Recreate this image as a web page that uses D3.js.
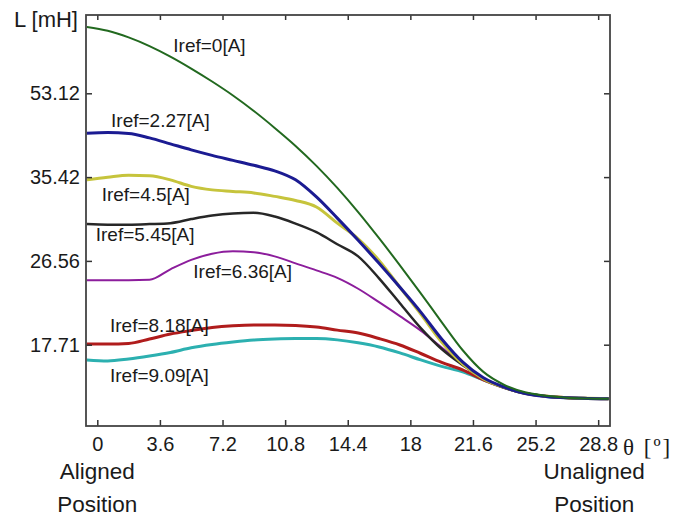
<!DOCTYPE html>
<html>
<head>
<meta charset="utf-8">
<script src="https://cdn.jsdelivr.net/npm/d3@7"></script>
<style>
  html, body { margin: 0; padding: 0; background: #fff; }
  svg { display: block; font-family: "Liberation Sans", Arial, sans-serif; }
</style>
</head>
<body>
<svg id="chart" width="686" height="517"></svg>
<script>
// Rotor angle samples [deg]
const theta = [-0.6, 0.6, 1.8, 3.0, 4.2, 5.4, 6.6, 7.8, 9.0, 10.2, 11.4, 12.6, 13.8,
  15.0, 16.2, 17.4, 18.6, 19.8, 21.0, 22.2, 23.4, 24.6, 25.8, 27.0, 28.2, 29.4];

// Inductance [mH] for each reference current
const L_0 = [67.13, 66.33, 64.92, 63.09, 60.87, 58.34, 55.61, 52.66, 49.39, 45.81, 42.01, 37.80, 34.28,
  31.72, 28.96, 26.09, 23.14, 20.10, 17.15, 14.84, 13.47, 12.69, 12.32, 12.11, 12.03, 12.00];
const L_227 = [44.69, 44.82, 44.65, 43.70, 42.44, 41.17, 40.01, 38.96, 37.91, 36.75, 35.13, 33.32, 31.08,
  28.74, 26.30, 23.77, 21.15, 18.31, 15.89, 14.21, 13.22, 12.56, 12.25, 12.10, 12.04, 12.00];
const L_45 = [35.13, 35.40, 35.80, 35.69, 35.13, 34.44, 34.07, 33.91, 33.75, 33.38, 32.95, 32.26, 30.55,
  28.90, 26.61, 23.77, 20.94, 17.99, 15.68, 14.10, 13.20, 12.57, 12.27, 12.12, 12.05, 12.00];
const L_545 = [30.45, 30.39, 30.39, 30.45, 30.55, 30.98, 31.35, 31.57, 31.64, 31.25, 30.50, 29.59, 28.32,
  27.04, 24.72, 22.09, 19.47, 17.26, 15.58, 14.10, 13.18, 12.58, 12.26, 12.11, 12.04, 12.00];
const L_636 = [24.51, 24.51, 24.51, 24.56, 25.67, 26.67, 27.31, 27.57, 27.47, 27.04, 26.30, 25.56, 24.77,
  23.62, 22.20, 20.73, 19.20, 17.42, 15.68, 14.10, 13.20, 12.57, 12.25, 12.10, 12.04, 12.00];
const L_818 = [17.78, 17.78, 17.84, 18.31, 18.83, 19.20, 19.52, 19.70, 19.78, 19.78, 19.73, 19.57, 19.25,
  18.94, 18.36, 17.68, 16.78, 15.84, 15.05, 14.00, 13.19, 12.57, 12.26, 12.11, 12.04, 12.00];
const L_909 = [16.10, 16.00, 16.21, 16.52, 16.89, 17.38, 17.73, 17.99, 18.20, 18.31, 18.36, 18.36, 18.22,
  17.91, 17.47, 16.84, 16.10, 15.42, 14.84, 14.00, 13.19, 12.57, 12.25, 12.10, 12.04, 12.00];

const seriesNames = ["Iref=0[A]", "Iref=2.27[A]", "Iref=4.5[A]", "Iref=5.45[A]",
  "Iref=6.36[A]", "Iref=8.18[A]", "Iref=9.09[A]"];
const seriesValues = [L_0, L_227, L_45, L_545, L_636, L_818, L_909];

// Axis ticks
const xTicks = [0, 3.6, 7.2, 10.8, 14.4, 18, 21.6, 25.2, 28.8];
const yTicks = [17.71, 26.56, 35.42, 53.12];

// ---- layout & styling ----
const margin = { left: 86, top: 15, right: 76, bottom: 91 };
const W = 686, H = 517;
const width = W - margin.left - margin.right;   // 524
const height = H - margin.top - margin.bottom;  // 411

const colors = ["#22691f", "#1b1b92", "#c6c43c", "#272727", "#8c1d9c", "#b01c1c", "#2cb0b0"];
const widths = [2, 3, 3, 2.5, 2, 3, 3];
// label anchors in data units [theta, L]
const labelAt = [[4.37, 61.9], [0.79, 45.9], [0.25, 32.93], [-0.09, 28.64],
  [5.52, 24.79], [0.73, 19.08], [0.73, 13.82]];

const svg = d3.select("#chart");
const g = svg.append("g").attr("transform", `translate(${margin.left},${margin.top})`);

const x = d3.scaleLinear().domain([-0.65, 29.48]).range([0, width]);
// y ticks sit at equal spacing on the axis
const yStep = 83.8, yFirst = 78.3;
const y = d3.scaleLinear()
  .domain(yTicks.slice().reverse())
  .range([yFirst, yFirst + yStep, yFirst + 2 * yStep, yFirst + 3 * yStep]);

const tickFont = "20px";

// curves (highest current drawn first)
const line = d3.line()
  .x((d, i) => x(theta[i]))
  .y(d => y(d))
  .curve(d3.curveMonotoneX);

g.append("clipPath").attr("id", "plotClip")
  .append("rect").attr("width", width).attr("height", height);

const curves = g.append("g").attr("clip-path", "url(#plotClip)");
for (let k = seriesValues.length - 1; k >= 0; k--) {
  curves.append("path")
    .datum(seriesValues[k])
    .attr("fill", "none")
    .attr("stroke", colors[k])
    .attr("stroke-width", widths[k])
    .attr("stroke-linejoin", "round")
    .attr("d", line);
}

// axes with inward ticks on all four sides
const axStyle = sel => {
  sel.select(".domain").remove();
  sel.selectAll(".tick line").attr("stroke", "#333").attr("stroke-width", 1.5);
  sel.selectAll("text").attr("font-size", tickFont).attr("fill", "#1a1a1a")
    .attr("font-family", "'Liberation Sans', Arial, sans-serif");
};

g.append("g").attr("transform", `translate(0,${height})`)
  .call(d3.axisBottom(x).tickValues(xTicks).tickFormat(d => String(d))
    .tickSizeInner(-6).tickSizeOuter(0).tickPadding(11))
  .call(axStyle);
g.append("g")
  .call(d3.axisTop(x).tickValues(xTicks).tickFormat("").tickSizeInner(-5).tickSizeOuter(0))
  .call(axStyle);
g.append("g")
  .call(d3.axisLeft(y).tickValues(yTicks).tickFormat(d => d.toFixed(2))
    .tickSizeInner(-6).tickSizeOuter(0).tickPadding(6))
  .call(axStyle);
g.append("g").attr("transform", `translate(${width},0)`)
  .call(d3.axisRight(y).tickValues(yTicks).tickFormat("").tickSizeInner(-6).tickSizeOuter(0))
  .call(axStyle);

// frame
g.append("rect").attr("width", width).attr("height", height)
  .attr("fill", "none").attr("stroke", "#444").attr("stroke-width", 1.8);

// curve labels
g.selectAll(".clabel").data(seriesNames).join("text")
  .attr("class", "clabel")
  .attr("x", (d, i) => x(labelAt[i][0]))
  .attr("y", (d, i) => y(labelAt[i][1]))
  .attr("font-size", "19px")
  .attr("fill", "#1a1a1a")
  .text(d => d);

// axis titles
svg.append("text").attr("x", 14).attr("y", 27)
  .attr("font-size", "22px").attr("fill", "#1a1a1a").text("L [mH]");

svg.append("text").attr("x", margin.left + width + 13).attr("y", margin.top + height + 29)
  .attr("font-size", "23px").attr("fill", "#1a1a1a")
  .attr("letter-spacing", "2px")
  .attr("font-family", "'Liberation Serif', 'Times New Roman', serif")
  .text("θ [º]");

const note = (cx, lines) => {
  const t = svg.append("text").attr("text-anchor", "middle")
    .attr("font-size", "22.5px").attr("fill", "#1a1a1a");
  lines.forEach((s, i) => t.append("tspan").attr("x", cx).attr("y", 479 + i * 32.5).text(s));
};
note(margin.left + x(0), ["Aligned", "Position"]);
note(margin.left + x(28.8) - 4, ["Unaligned", "Position"]);
</script>
</body>
</html>
